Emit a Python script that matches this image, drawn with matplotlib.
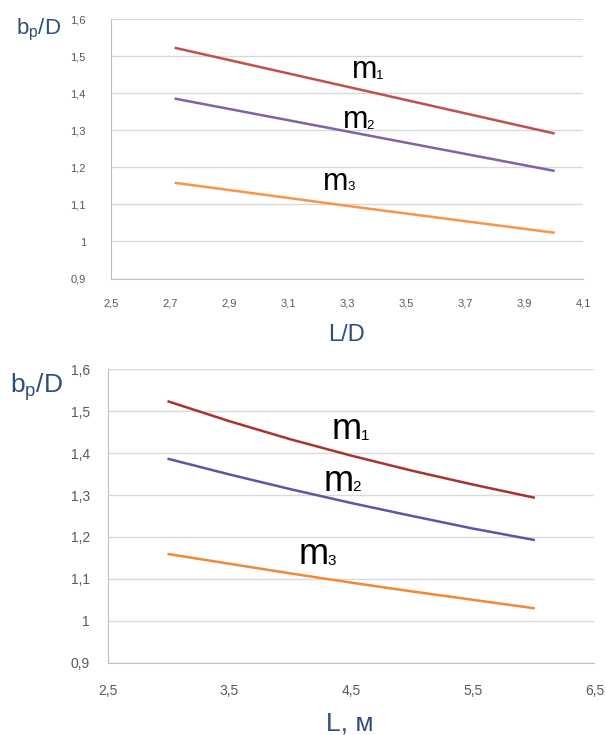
import matplotlib.pyplot as plt

# top chart: b_p/D against L/D
ld = [2.72, 3.36, 4.0]
top_m1 = [1.522, 1.407, 1.292]
top_m2 = [1.385, 1.288, 1.191]
top_m3 = [1.158, 1.090, 1.024]
top_xticks = [2.5, 2.7, 2.9, 3.1, 3.3, 3.5, 3.7, 3.9, 4.1]

# bottom chart: b_p/D against L, m
length = [3.0, 3.5, 4.0, 4.5, 5.0, 5.5, 6.0]
bot_m1 = [1.523, 1.476, 1.433, 1.394, 1.358, 1.325, 1.294]
bot_m2 = [1.386, 1.349, 1.314, 1.281, 1.250, 1.220, 1.193]
bot_m3 = [1.159, 1.136, 1.113, 1.091, 1.070, 1.050, 1.030]
bot_xticks = [2.5, 3.5, 4.5, 5.5, 6.5]

yticks = [0.9, 1.0, 1.1, 1.2, 1.3, 1.4, 1.5, 1.6]

plt.rcParams['font.family'] = ['Liberation Sans', 'DejaVu Sans']
plt.rcParams['mathtext.fontset'] = 'custom'
plt.rcParams['mathtext.rm'] = 'Liberation Sans'

label_col = "#2e4f7f"
tick_col = "#595959"


def fmt(v):
    s = ("%.1f" % v).replace(".", ",")
    return "1" if s == "1,0" else s


def style(ax, xticks, tsize, xpad, ypad):
    ax.set_ylim(0.9, 1.6)
    ax.set_xlim(xticks[0], xticks[-1])
    ax.set_yticks(yticks)
    ax.set_yticklabels([fmt(v) for v in yticks])
    ax.set_xticks(xticks)
    ax.set_xticklabels([fmt(v) for v in xticks])
    ax.grid(axis="y", color="#d9d9d9", lw=1)
    ax.set_axisbelow(True)
    for s in ["top", "right"]:
        ax.spines[s].set_visible(False)
    ax.spines["left"].set_color("#bfbfbf")
    ax.spines["bottom"].set_color("#bfbfbf")
    ax.tick_params(length=0, colors=tick_col, labelsize=tsize)
    ax.tick_params(axis="x", pad=xpad)
    ax.tick_params(axis="y", pad=ypad)


def mlabel(ax, x, y, digit, size, subsize, fam):
    t = ax.text(x, y, "m", fontsize=size, family=fam, va="baseline", ha="left")
    # lift the small digit so it sits on the same baseline as the "m"
    lift = 0.21 * (size - subsize)
    ax.annotate(digit, xy=(1, 0), xycoords=t, xytext=(-1, lift), textcoords="offset points",
                fontsize=subsize, family=fam, va="bottom", ha="left")


fig = plt.figure(figsize=(6.06, 7.35), dpi=100)

ax1 = fig.add_axes([0.183, 0.621, 0.779, 0.353])
ax1.plot(ld, top_m1, color="#c0504d", lw=1.8)
ax1.plot(ld, top_m2, color="#8064a2", lw=1.8)
ax1.plot(ld, top_m3, color="#f79646", lw=1.8)
style(ax1, top_xticks, 8, 14, 18)
top_fam = ['Liberation Sans', 'DejaVu Sans']
mlabel(ax1, 3.316, 1.4405, "1", 22, 9.5, top_fam)
mlabel(ax1, 3.285, 1.3054, "2", 22, 9.5, top_fam)
mlabel(ax1, 3.220, 1.1386, "3", 22, 9.5, top_fam)
fig.text(0.063, 0.959, r"b$_\mathregular{p}$/D", fontsize=16, color=label_col, ha="center", va="center")
fig.text(0.571, 0.544, "L/D", fontsize=17, color=label_col, ha="center", va="center")

ax2 = fig.add_axes([0.178, 0.0984, 0.803, 0.3992])
ax2.plot(length, bot_m1, color="#a93232", lw=1.8)
ax2.plot(length, bot_m2, color="#6650a8", lw=1.8)
ax2.plot(length, bot_m3, color="#f08a34", lw=1.8)
style(ax2, bot_xticks, 10, 15, 13)
bot_fam = ['Liberation Sans Narrow', 'Liberation Sans', 'DejaVu Sans']
mlabel(ax2, 4.34, 1.433, "1", 26, 11, bot_fam)
mlabel(ax2, 4.276, 1.310, "2", 26, 11, bot_fam)
mlabel(ax2, 4.071, 1.135, "3", 26, 11, bot_fam)
fig.text(0.060, 0.473, r"b$_\mathregular{p}$/D", fontsize=19, color=label_col, ha="center", va="center")
fig.text(0.578, 0.016, "L, м", fontsize=19, color=label_col, ha="center", va="center")

fig.savefig("out.png", dpi=100)
